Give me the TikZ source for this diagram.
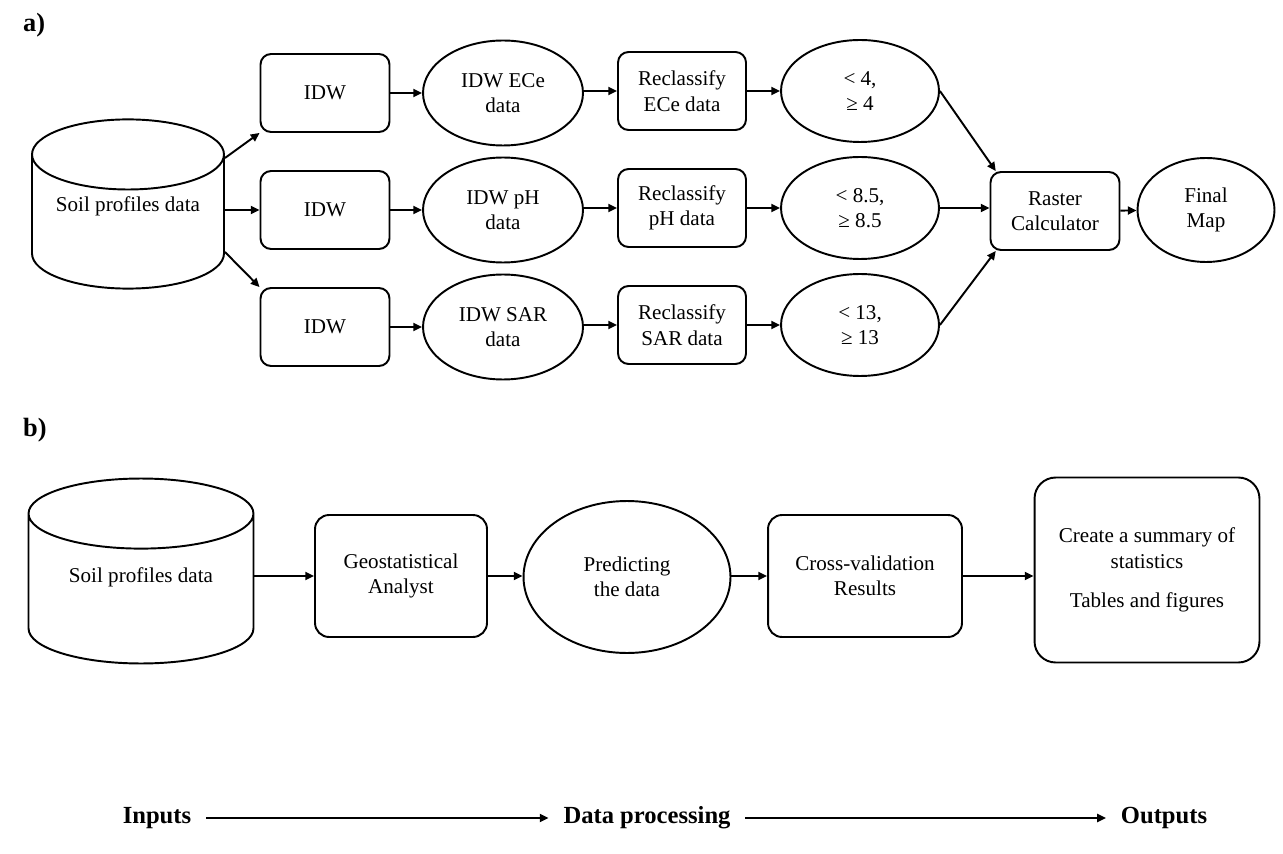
\documentclass[tikz,border=0pt]{standalone}
\usepackage{fontspec}
\setmainfont{Liberation Serif}
\usepackage{tikz}
\usetikzlibrary{%
	arrows.meta,%
	calc,%
	shapes.geometric%
}

\tikzset{
	box/.style={draw, line width=1.1pt, rounded corners=6pt, align=center, inner sep=2pt,
		minimum width=2.58cm, minimum height=1.56cm, font=\fontsize{12}{14.5}\selectfont},
	oval/.style={draw, line width=1.1pt, ellipse, align=center, inner sep=0pt,
		minimum width=3.2cm, minimum height=2.1cm, font=\fontsize{12}{14.5}\selectfont},
	drum/.style={draw, line width=1.1pt, cylinder, shape border rotate=90, aspect=0.45,
		anchor=shape center, align=center, text height=8.5pt, font=\fontsize{12}{14.5}\selectfont},
	panel/.style={anchor=west, font=\fontsize{15}{17}\selectfont\bfseries},
	flow/.style={font=\fontsize{14}{16}\selectfont\bfseries},
	link/.style={->, line width=1.1pt}
}

\begin{document}
\begin{tikzpicture}[x=0.02cm, y=-0.02cm, >={Triangle[length=5pt,width=4.6pt]}]
	\useasboundingbox (0,0) rectangle (1283,854);

	% Panel a
	\node[panel] (labA) at (17,25) {a)};
	\node[drum, text depth=27.6pt, minimum width=3.84cm, minimum height=3.36cm] (soilA) at (128,204) {Soil profiles data};
	\coordinate (soilUp) at ($(soilA.shape center -| soilA.east)+(0,-46)$);
	\coordinate (soilDown) at ($(soilA.shape center -| soilA.east)+(0,48)$);

	% IDW rows
	\node[box] (idwA) at (325,93) {IDW};
	\node[box] (idwB) at (325,210) {IDW};
	\node[box] (idwC) at (325,327) {IDW};

	\node[oval] (ellA) at (503,93) {IDW ECe\\data};
	\node[oval] (ellB) at (503,210) {IDW pH\\data};
	\node[oval] (ellC) at (503,327) {IDW SAR\\data};

	\node[box, minimum width=2.56cm] (recA) at (682,91) {Reclassify\\ECe data};
	\node[box, minimum width=2.56cm] (recB) at (682,208) {Reclassify\\pH data};
	\node[box, minimum width=2.56cm] (recC) at (682,325) {Reclassify\\SAR data};

	\node[oval, minimum width=3.16cm, minimum height=2.04cm] (thrA) at (860,91) {< 4,\\≥ 4};
	\node[oval, minimum width=3.16cm, minimum height=2.04cm] (thrB) at (860,208) {< 8.5,\\≥ 8.5};
	\node[oval, minimum width=3.16cm, minimum height=2.04cm] (thrC) at (860,325) {< 13,\\≥ 13};

	\node[box] (ras) at (1055,211) {Raster\\Calculator};
	\node[oval, minimum width=2.74cm, minimum height=2.08cm] (fin) at (1206,210) {Final\\Map};

	% Edges a
	\draw[link] (soilUp) -- (idwA.south west);
	\draw[link] (soilA.east |- idwB.west) -- (idwB.west);
	\draw[link] (soilDown) -- (idwC.north west);
	\foreach \r in {A,B,C} {
		\draw[link] (idw\r) -- (ell\r.west |- idw\r.east);
		\draw[link] (ell\r.east |- rec\r.west) -- (rec\r.west);
		\draw[link] (rec\r) -- (thr\r);
	}
	\draw[link] (thrA.east) -- (ras.146);
	\draw[link] (thrB.east) -- (ras.west |- thrB.east);
	\draw[link] (thrC.east) -- (ras.214);
	\draw[link] (ras) -- (fin);

	% Panel b
	\node[panel] (labB) at (17,430) {b)};
	\node[drum, text depth=21.8pt, minimum width=4.5cm, minimum height=3.7cm] (soilB) at (141,571) {Soil profiles data};
	\node[box, minimum width=3.44cm, minimum height=2.44cm, rounded corners=8pt] (geo) at (401,576) {Geostatistical\\Analyst};
	\node[oval, minimum width=4.14cm, minimum height=3.04cm] (pred) at (627,577) {Predicting\\the data};
	\node[box, minimum width=3.88cm, minimum height=2.44cm, rounded corners=8pt] (cross) at (865,576) {Cross-validation\\Results};
	\node[box, minimum width=4.5cm, minimum height=3.7cm, rounded corners=12pt] (summ) at (1147,570) {Create a summary of\\statistics\\[8pt]Tables and figures};

	% Edges b
	\draw[link] (soilB.east |- geo.west) -- (geo.west);
	\draw[link] (geo.east) -- (pred.west |- geo.east);
	\draw[link] (pred.east |- cross.west) -- (cross.west);
	\draw[link] (cross.east) -- (summ.west |- cross.east);

	% Flow line
	\node[flow] (inp) at (157,818) {Inputs};
	\node[flow] (proc) at (647,818) {Data processing};
	\node[flow] (outp) at (1164,818) {Outputs};
	\draw[link, shorten <=5pt, shorten >=5pt] (inp) -- (proc);
	\draw[link, shorten <=5pt, shorten >=5pt] (proc) -- (outp);
\end{tikzpicture}
\end{document}
